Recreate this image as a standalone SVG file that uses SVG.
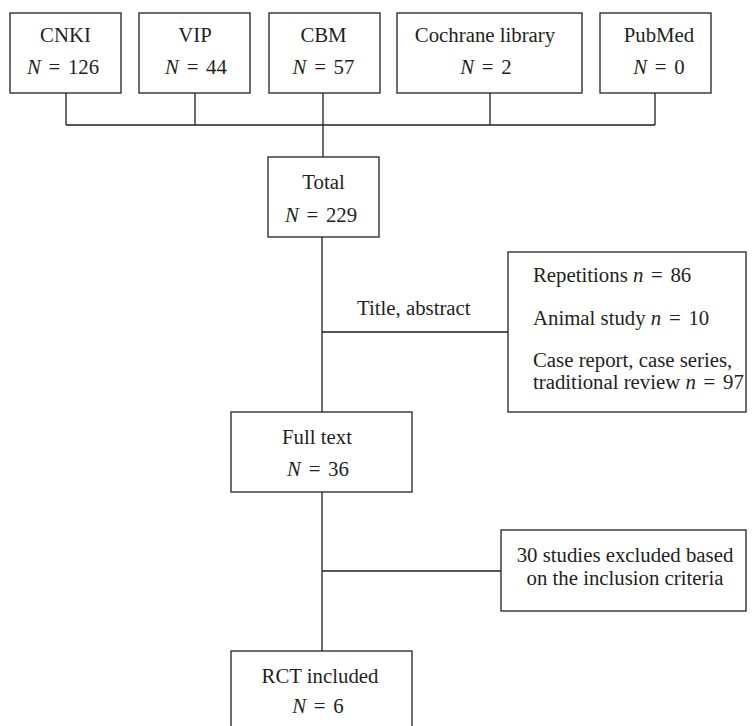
<svg xmlns="http://www.w3.org/2000/svg" width="756" height="726" viewBox="0 0 756 726">
<style>
.box{fill:#fff;stroke:#231f20;stroke-width:1.3}
.ln{fill:none;stroke:#231f20;stroke-width:1.3}
text{font-family:"Liberation Serif","Times New Roman",serif;font-size:20.8px;fill:#231f20}
.c{text-anchor:middle}
.i{font-style:italic}
.eq{word-spacing:2.5px}
</style>
<rect width="756" height="726" fill="#fff"/>
<g id="connectors">
<path class="ln" d="M66 93V125M195 93V125M323 93V157M490 93V125M655 93V125M66 125H655"/>
<path class="ln" d="M322 237V412M322 332H508"/>
<path class="ln" d="M322 492V651M322 571H501"/>
</g>
<g id="cnki"><rect class="box" x="10" y="13" width="111" height="80"/>
<text class="c" x="65.5" y="42">CNKI</text><text class="c eq" x="63" y="74"><tspan class="i">N</tspan> = 126</text></g>
<g id="vip"><rect class="box" x="139" y="13" width="111" height="80"/>
<text class="c" x="195" y="42">VIP</text><text class="c eq" x="196" y="74"><tspan class="i">N</tspan> = 44</text></g>
<g id="cbm"><rect class="box" x="269" y="13" width="111" height="80"/>
<text class="c" x="323.5" y="42">CBM</text><text class="c eq" x="323.5" y="74"><tspan class="i">N</tspan> = 57</text></g>
<g id="cochrane"><rect class="box" x="397" y="13" width="185" height="80"/>
<text class="c" x="485" y="42">Cochrane library</text><text class="c eq" x="486" y="74"><tspan class="i">N</tspan> = 2</text></g>
<g id="pubmed"><rect class="box" x="600" y="13" width="111" height="80"/>
<text class="c" x="659" y="42">PubMed</text><text class="c eq" x="659" y="74"><tspan class="i">N</tspan> = 0</text></g>
<g id="total"><rect class="box" x="268" y="157" width="111" height="80"/>
<text class="c" x="323.5" y="189">Total</text><text class="c eq" x="321" y="222"><tspan class="i">N</tspan> = 229</text></g>
<g id="title-label"><text x="357" y="315">Title, abstract</text></g>
<g id="excl1"><rect class="box" x="508" y="252" width="238" height="160"/>
<text x="533" y="282">Repetitions <tspan class="i">n</tspan><tspan class="eq"> = 86</tspan></text>
<text x="533" y="325">Animal study <tspan class="i">n</tspan><tspan class="eq"> = 10</tspan></text>
<text x="533" y="367">Case report, case series,</text>
<text x="533" y="389">traditional review <tspan class="i">n</tspan><tspan class="eq"> = 97</tspan></text></g>
<g id="fulltext"><rect class="box" x="231" y="412" width="181" height="80"/>
<text class="c" x="317" y="444">Full text</text><text class="c eq" x="318" y="476"><tspan class="i">N</tspan> = 36</text></g>
<g id="excl2"><rect class="box" x="501" y="530" width="245" height="81"/>
<text class="c" x="625" y="562">30 studies excluded based</text>
<text class="c" x="625" y="585">on the inclusion criteria</text></g>
<g id="rct"><rect class="box" x="231" y="651" width="181" height="90"/>
<text class="c" x="320" y="683">RCT included</text><text class="c eq" x="318" y="713"><tspan class="i">N</tspan> = 6</text></g>
</svg>
